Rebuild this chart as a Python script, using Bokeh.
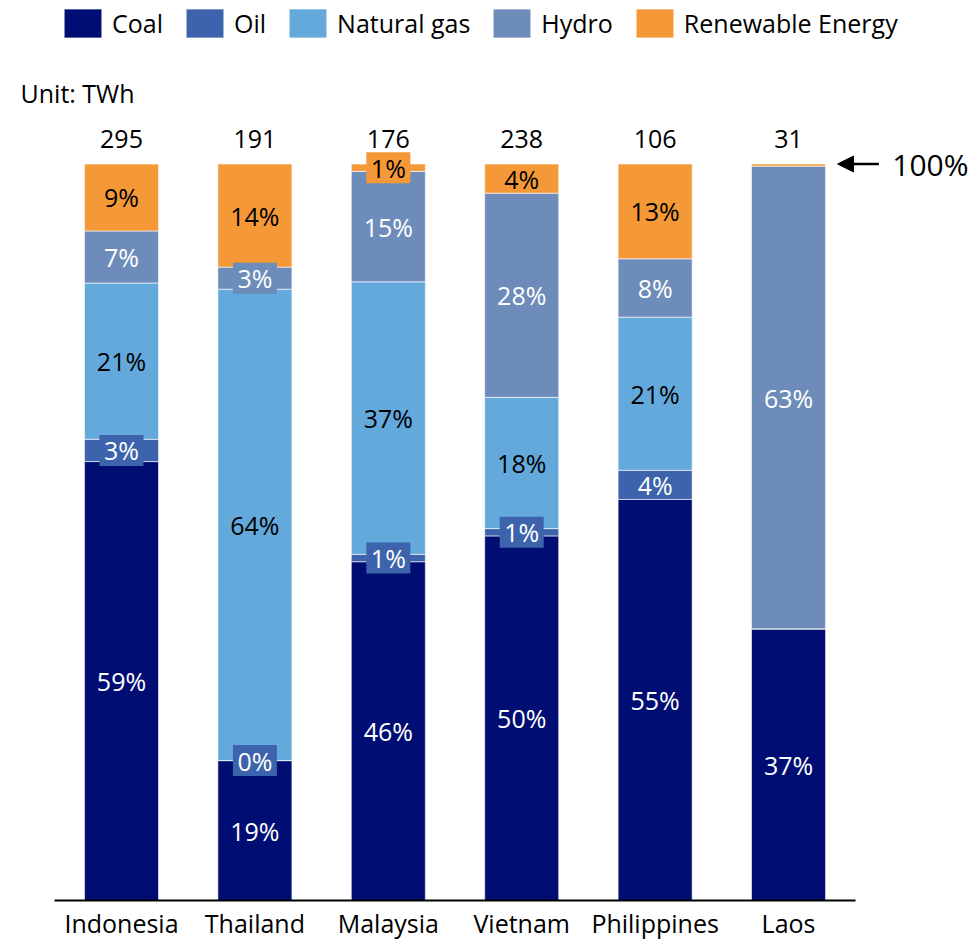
from bokeh.plotting import figure
from bokeh.models import (ColumnDataSource, Range1d, Legend, LegendItem, FixedTicker,
                          Label, Arrow, NormalHead)
from bokeh.core.properties import value
from bokeh.embed import file_html
from bokeh.resources import INLINE

# Electricity generation mix by country (share of total, %)
countries = ["Indonesia", "Thailand", "Malaysia", "Vietnam", "Philippines", "Laos"]
totals_twh = [295, 191, 176, 238, 106, 31]

series = ["Coal", "Oil", "Natural gas", "Hydro", "Renewable Energy"]
coal = [59, 19, 46, 50, 55, 37]
oil = [3, 0, 1, 1, 4, 0]
natural_gas = [21, 64, 37, 18, 21, 0]
hydro = [7, 3, 15, 28, 8, 63]
renewable = [9, 14, 1, 4, 13, 0.3]

colors = ["#000E73", "#3C63AC", "#63A9DC", "#6E8CB9", "#F59838"]
label_colors = ["white", "white", "black", "white", "black"]

# segments that carry no percentage label
unlabeled = {("Laos", "Oil"), ("Laos", "Natural gas"), ("Laos", "Renewable Energy")}

FONT = "Open Sans"
FS = "25px"
BAR_W = 0.555

values = [coal, oil, natural_gas, hydro, renewable]
keys = ["coal", "oil", "gas", "hydro", "renew"]

# one slot per country, bar centred in its slot
xpos = [i + 0.5 for i in range(len(countries))]

# normalise every country to a 100 % stack
sums = [sum(v[i] for v in values) for i in range(len(countries))]
data = {"x": xpos}
for k, v in zip(keys, values):
    data[k] = [v[i] / sums[i] * 100 for i in range(len(countries))]
source = ColumnDataSource(data)

p = figure(x_range=Range1d(-0.407, 6.909), y_range=Range1d(0, 122.2),
           width=976, height=943, output_backend="svg", toolbar_location=None,
           y_axis_location=None,
           min_border_left=0, min_border_right=0, min_border_top=0, min_border_bottom=43)
p.outline_line_color = None
p.xgrid.visible = False
p.ygrid.visible = False
p.background_fill_color = "white"
p.border_fill_color = "white"

renderers = p.vbar_stack(keys, x="x", width=BAR_W, source=source,
                         color=colors, line_color="white", line_width=0.6)

# percentage labels, with a filled box behind the narrow segments
lab = {"x": [], "y": [], "text": [], "color": []}
box = {"x": [], "y": [], "fill": []}
for i, c in enumerate(countries):
    base = 0.0
    for s, k, v, tc, fc in zip(series, keys, values, label_colors, colors):
        h = data[k][i]
        mid = base + h / 2
        base += h
        if (c, s) in unlabeled:
            continue
        lab["x"].append(xpos[i])
        lab["y"].append(mid)
        lab["text"].append(f"{v[i]:.0f}%")
        lab["color"].append(tc)
        if v[i] <= 3:
            box["x"].append(xpos[i])
            box["y"].append(mid)
            box["fill"].append(fc)

p.rect(x="x", y="y", width=44, height=31, width_units="screen", height_units="screen",
       fill_color="fill", line_color=None, source=ColumnDataSource(box))
p.text(x="x", y="y", text="text", text_color="color", source=ColumnDataSource(lab),
       text_align="center", text_baseline="middle",
       text_font=value(FONT), text_font_size=FS)

# totals in TWh above each bar
p.text(x=xpos, y=[103.4] * len(countries), text=[str(t) for t in totals_twh],
       text_align="center", text_baseline="middle", text_color="black",
       text_font=value(FONT), text_font_size=FS)

# x axis: a baseline under the bars with the country names
ax = p.xaxis[0]
ax.bounds = (0, len(countries))
ax.ticker = FixedTicker(ticks=xpos)
ax.major_label_overrides = {x: c for x, c in zip(xpos, countries)}
ax.axis_line_color = "black"
ax.axis_line_width = 2
ax.major_tick_line_color = None
ax.minor_tick_line_color = None
ax.major_tick_out = 0
ax.major_tick_in = 0
ax.minor_tick_out = 0
ax.minor_tick_in = 0
ax.major_label_text_font = FONT
ax.major_label_text_font_size = FS
ax.major_label_text_color = "black"
ax.major_label_standoff = 5

# legend across the top (area glyphs are drawn inset by 10 % in the legend)
legend = Legend(items=[LegendItem(label=s, renderers=[r]) for s, r in zip(series, renderers)],
                orientation="horizontal", location=(59, 859),
                glyph_width=47, glyph_height=36, label_standoff=6, spacing=18,
                label_text_font=FONT, label_text_font_size=FS,
                label_text_color="black", label_height=30,
                padding=0, margin=0, border_line_color=None, background_fill_alpha=0)
p.add_layout(legend, "center")

# unit note
p.add_layout(Label(x=-0.257, y=(900 - 92) / 7.365, text="Unit: TWh",
                   text_font=FONT, text_font_size=FS, text_color="black",
                   text_baseline="middle", text_align="left"))

# 100 % marker next to the last bar
tip = xpos[-1] + BAR_W / 2 + 0.09
p.add_layout(Arrow(x_start=tip + 0.31, y_start=100, x_end=tip, y_end=100,
                   line_color="black", line_width=2.5,
                   end=NormalHead(size=16, fill_color="black", line_color="black")))
p.add_layout(Label(x=tip + 0.41, y=100, text="100%", text_font=FONT,
                   text_font_size="30px", text_color="black",
                   text_baseline="middle", text_align="left"))

open("out.html", "w").write(file_html(p, INLINE))
